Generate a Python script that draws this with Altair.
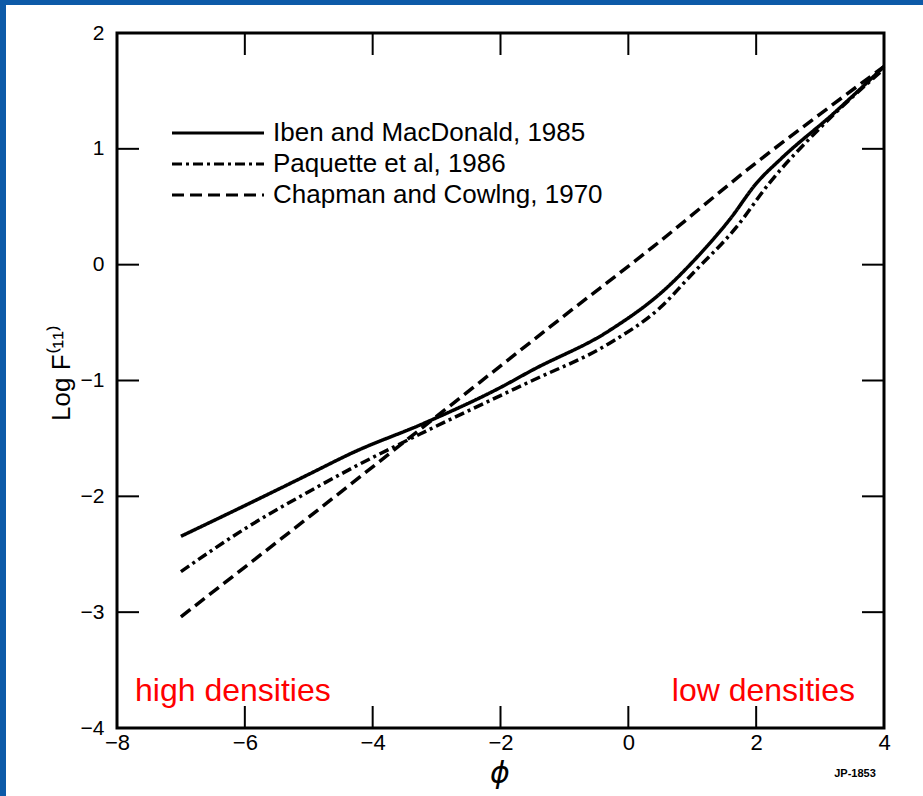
import altair as alt
import pandas as pd

# ---- data ----
series_names = ["Iben and MacDonald, 1985", "Paquette et al, 1986", "Chapman and Cowlng, 1970"]

phi_iben = [-7.0, -6.0, -5.0, -4.3, -3.2, -2.0, -1.5, -0.3, 0.6, 1.0, 1.6, 2.0, 2.4, 3.2, 4.0]
logf_iben = [-2.345, -2.08, -1.81, -1.62, -1.37, -1.06, -0.91, -0.57, -0.20, 0.02, 0.40, 0.70, 0.92, 1.30, 1.71]

phi_paq = [-7.0, -6.0, -5.0, -4.3, -3.1, -2.0, -1.5, -0.3, 0.5, 1.0, 1.7, 2.2, 3.0, 4.0]
logf_paq = [-2.65, -2.28, -1.96, -1.75, -1.42, -1.13, -1.0, -0.68, -0.37, -0.08, 0.33, 0.70, 1.18, 1.69]

phi_chap = [-7.0, -5.0, -3.0, -1.0, 0.4, 2.0, 3.0, 4.0]
logf_chap = [-3.04, -2.18, -1.31, -0.44, 0.16, 0.88, 1.30, 1.71]

x_ticks = [-8, -6, -4, -2, 0, 2, 4]
y_ticks = [-4, -3, -2, -1, 0, 1, 2]
x_inner_ticks = [-6, -4, -2, 0, 2]
y_inner_ticks = [-3, -2, -1, 0, 1]

rows = []
for name, xs, ys in [(series_names[0], phi_iben, logf_iben),
                     (series_names[1], phi_paq, logf_paq),
                     (series_names[2], phi_chap, logf_chap)]:
    for a, b in zip(xs, ys):
        rows.append({"series": name, "phi": a, "logf": b})
df = pd.DataFrame(rows)

W, H = 767, 695
FONT = "Liberation Sans"
BLUE = "#0d5aa8"
xs_scale = alt.Scale(domain=[-8, 4], nice=False, zero=False)
ys_scale = alt.Scale(domain=[-4, 2], nice=False, zero=False)

one = pd.DataFrame({"a": [0]})

# blue slide frame (left and top strips)
frame_left = alt.Chart(one).mark_rect(color=BLUE).encode(
    x=alt.value(-117), x2=alt.value(-111), y=alt.value(-33), y2=alt.value(H + 68))
frame_top = alt.Chart(one).mark_rect(color=BLUE).encode(
    x=alt.value(-117), x2=alt.value(W + 39), y=alt.value(-33), y2=alt.value(-28))

lines = alt.Chart(df).mark_line(color="black", strokeWidth=3.5, interpolate="monotone").encode(
    x=alt.X("phi:Q", scale=xs_scale,
            axis=alt.Axis(values=x_ticks, format="d", title=None, grid=False, domain=False, ticks=False,
                          labelFontSize=22, labelFont=FONT, labelColor="black", labelPadding=4,
                          labelFlush=False, zindex=1)),
    y=alt.Y("logf:Q", scale=ys_scale,
            axis=alt.Axis(values=y_ticks, format="d", title=None, grid=False, domain=False, ticks=False,
                          labelFontSize=21, labelFont=FONT, labelColor="black", labelPadding=13,
                          labelFlush=False, zindex=1)),
    strokeDash=alt.StrokeDash(
        "series:N",
        sort=series_names,
        scale=alt.Scale(domain=series_names, range=[[1, 0], [10, 4, 3, 4], [12, 6]]),
        legend=alt.Legend(
            title=None, orient="none", legendX=88, legendY=87,
            symbolType="M-4,0H4", symbolSize=529, symbolStrokeWidth=3,
            symbolStrokeColor="black", labelOffset=42, labelLimit=0,
            labelFontSize=26, labelFont=FONT, labelColor="black", rowPadding=5,
        ),
    ),
)

xt = pd.DataFrame({"v": x_inner_ticks})
yt = pd.DataFrame({"v": y_inner_ticks})
tick_len = 22
xt_bottom = alt.Chart(xt).mark_rule(color="black", strokeWidth=2).encode(
    x=alt.X("v:Q", scale=xs_scale), y=alt.value(H - tick_len), y2=alt.value(H))
xt_top = alt.Chart(xt).mark_rule(color="black", strokeWidth=2).encode(
    x=alt.X("v:Q", scale=xs_scale), y=alt.value(0), y2=alt.value(tick_len))
yt_left = alt.Chart(yt).mark_rule(color="black", strokeWidth=2).encode(
    y=alt.Y("v:Q", scale=ys_scale), x=alt.value(0), x2=alt.value(tick_len))
yt_right = alt.Chart(yt).mark_rule(color="black", strokeWidth=2).encode(
    y=alt.Y("v:Q", scale=ys_scale), x=alt.value(W - tick_len), x2=alt.value(W))

def label(text, x, y, size, color="black", align="center", angle=0, style="normal", weight="normal", font=FONT):
    kw = dict(text=text, fontSize=size, color=color, align=align, baseline="middle",
              font=font, fontStyle=style, fontWeight=weight)
    if angle:
        kw["angle"] = angle
    return alt.Chart(one).mark_text(**kw).encode(x=alt.value(x), y=alt.value(y))

texts = [
    label("high densities", 18, 658, 32, color="#ff0000", align="left"),
    label("low densities", 738, 658, 32, color="#ff0000", align="right"),
    label("Log F⁽¹¹⁾", -55, 340, 26, angle=270),
    label("ϕ", 383, 741, 30, style="italic", font="DejaVu Sans"),
    label("JP-1853", 738, 741, 11, weight="bold"),
]

chart = alt.layer(frame_left, frame_top, lines, xt_bottom, xt_top, yt_left, yt_right, *texts).properties(
    width=W, height=H,
    padding={"left": 117, "top": 33, "right": 39, "bottom": 68},
    autosize=alt.AutoSizeParams(type="none"),
    background="white",
).configure_view(stroke="black", strokeWidth=3, fill="white")

chart.save("out.html", embed_options={"renderer": "svg", "actions": False})
